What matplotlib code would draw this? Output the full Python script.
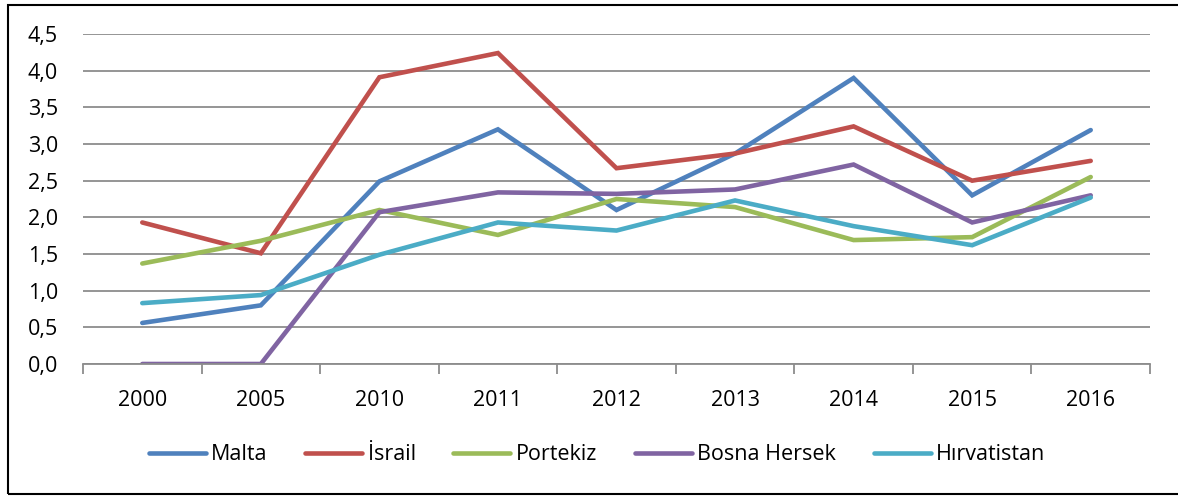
import numpy as np
import matplotlib.pyplot as plt
from matplotlib.patches import Rectangle

years = ['2000', '2005', '2010', '2011', '2012', '2013', '2014', '2015', '2016']
malta = [0.56, 0.80, 2.49, 3.20, 2.10, 2.87, 3.90, 2.30, 3.19]
israil = [1.93, 1.51, 3.91, 4.24, 2.67, 2.87, 3.24, 2.50, 2.77]
portekiz = [1.37, 1.68, 2.10, 1.76, 2.25, 2.14, 1.69, 1.73, 2.55]
bosna = [0.0, 0.0, 2.07, 2.34, 2.32, 2.38, 2.72, 1.93, 2.30]
hirvatistan = [0.83, 0.94, 1.49, 1.93, 1.82, 2.23, 1.88, 1.62, 2.27]

names = ['Malta', 'İsrail', 'Portekiz', 'Bosna Hersek', 'Hırvatistan']
colors = ['#4F81BD', '#C0504D', '#9BBB59', '#8064A2', '#4BACC6']
series = [malta, israil, portekiz, bosna, hirvatistan]

plt.rcParams['font.family'] = ['Open Sans', 'DejaVu Sans']
fs = 15.5

fig = plt.figure(figsize=(11.78, 4.96), dpi=100)
W, H = 1178, 496
ax = fig.add_axes([83 / W, 1 - 364 / H, (1150 - 83) / W, (364 - 34) / H])

x = np.arange(len(years))
for vals, name, c in zip(series, names, colors):
    ax.plot(x, vals, color=c, lw=3.3, label=name, solid_capstyle='round',
            solid_joinstyle='miter')

ax.set_xlim(-0.5, len(years) - 0.5)
ax.set_ylim(0, 4.5)
ax.set_yticks(np.arange(0, 4.51, 0.5))
ax.set_yticklabels([f'{v:.1f}'.replace('.', ',') for v in np.arange(0, 4.51, 0.5)],
                   fontsize=fs)
ax.yaxis.grid(True, color='#8c8c8c', lw=1.3)
ax.set_axisbelow(True)
ax.tick_params(axis='y', length=0, pad=18)

ax.set_xticks(x)
ax.set_xticklabels(years, fontsize=fs)
ax.set_xticks(np.arange(-0.5, len(years), 1), minor=True)
ax.tick_params(axis='x', which='major', length=0, pad=19)
ax.tick_params(axis='x', which='minor', length=7, width=1.3, color='#8c8c8c')

for s in ['top', 'right', 'left']:
    ax.spines[s].set_visible(False)
ax.spines['bottom'].set_color('#8c8c8c')
ax.spines['bottom'].set_linewidth(1.3)

fig.legend(loc='center', bbox_to_anchor=(597 / W, 1 - 455 / H), ncol=5,
           frameon=False, fontsize=fs, handlelength=2.65, handletextpad=0.25,
           columnspacing=1.75)

fig.patches.append(Rectangle((8 / W, 1 - 494 / H), (1200 - 8) / W, (494 - 5) / H,
                             transform=fig.transFigure, fill=False,
                             edgecolor='black', lw=1.5))

fig.savefig('out.png', dpi=100)
